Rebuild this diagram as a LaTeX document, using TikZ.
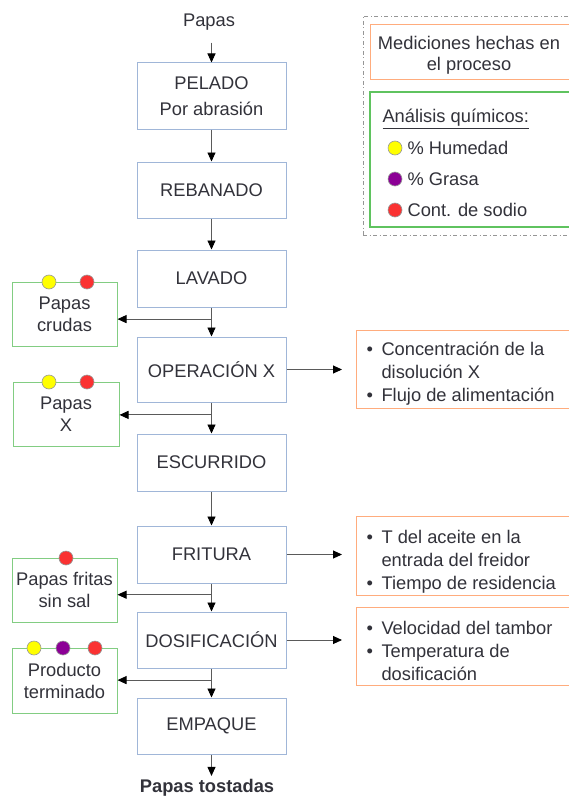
\documentclass[tikz,border=0pt]{standalone}
\usepackage{fontspec}
\setmainfont{Liberation Sans}
\usetikzlibrary{arrows.meta, positioning, calc}

\definecolor{procblue}{RGB}{160,182,216}
\definecolor{samplegreen}{RGB}{130,205,130}
\definecolor{legendgreen}{RGB}{95,195,95}
\definecolor{measorange}{RGB}{255,172,125}
\definecolor{framegray}{RGB}{150,150,150}
\definecolor{arrowgray}{RGB}{90,90,90}
\definecolor{textgray}{RGB}{50,50,58}
\definecolor{dotyellow}{RGB}{255,255,0}
\definecolor{dotpurple}{RGB}{140,0,150}
\definecolor{dotred}{RGB}{250,50,50}

\begin{document}
\begin{tikzpicture}[
    x=1pt, y=-1pt,
    every node/.style={text=textgray, font=\fontsize{18.3}{22}\selectfont},
    procbox/.style={rectangle, draw=procblue, line width=1pt, minimum width=149pt, minimum height=57pt, align=center},
    samplebox/.style={rectangle, draw=samplegreen, line width=1pt, minimum width=105pt, minimum height=64pt, align=center, inner sep=2pt},
    measbox/.style={rectangle, draw=measorange, line width=1pt, anchor=west, minimum width=215pt, minimum height=78pt},
    meastext/.style={anchor=west, align=left, font=\fontsize{18.3}{23}\selectfont},
    probe/.style={circle, draw=gray!80, line width=0.6pt, minimum size=14pt, inner sep=0pt},
    arrow/.style={draw=arrowgray, line width=0.9pt, -{Triangle[length=9pt, width=8pt, color=black]}},
]

%Background
\clip (0,0) rectangle (569,797);
\fill[white] (0,0) rectangle (569,797);

% Legend
\node[rectangle, draw=framegray, line width=0.8pt, dash pattern=on 4pt off 2.5pt on 1pt off 2.5pt, minimum width=208pt, minimum height=219pt] (legend) at (467,125.5) {};
\node[rectangle, draw=measorange, line width=1pt, minimum width=201pt, minimum height=55pt] (leg_meas) at (470.5,52.5) {};
\node[align=center, font=\fontsize{18.3}{21}\selectfont] (leg_meas_txt) at (469,55) {Mediciones hechas en\\el proceso};
\node[rectangle, draw=legendgreen, line width=1.3pt, minimum width=201pt, minimum height=135pt] (leg_chem) at (470.5,159.5) {};
\node[anchor=west] (leg_title) at (379,119) {\underline{Análisis químicos:}};
\node[probe, fill=dotyellow] (leg_hum) at (395,148) {};
\node[probe, fill=dotpurple] (leg_fat) at (395,179) {};
\node[probe, fill=dotred] (leg_salt) at (395,210) {};
\node[anchor=west] (leg_hum_txt) at (404,148) {\% Humedad};
\node[anchor=west] (leg_fat_txt) at (404,179) {\% Grasa};
\node[anchor=west] (leg_salt_txt) at (404,210) {Cont. de sodio};

% Main process
\node (papas) at (209,22) {Papas};
\node[procbox, minimum height=66pt] (pelado) at (211.5,96) {PELADO\\[4pt]Por abrasión};
\node[procbox, minimum height=56pt] (rebanado) at (211.5,190) {REBANADO};
\node[procbox] (lavado) at (211.5,278.5) {LAVADO};
\node[procbox, minimum height=65pt] (operacion) at (211.5,369.5) {OPERACIÓN X};
\node[procbox] (escurrido) at (211.5,462.5) {ESCURRIDO};
\node[procbox] (fritura) at (211.5,554.5) {FRITURA};
\node[procbox, minimum height=56pt] (dosificacion) at (211.5,640) {DOSIFICACIÓN};
\node[procbox, minimum height=56pt] (empaque) at (211.5,726) {EMPAQUE};
\node[font=\fontsize{18.3}{22}\selectfont\bfseries] (tostadas) at (207,788) {Papas tostadas};

% Samples
\node[samplebox] (crudas) at (64.5,314) {Papas\\crudas};
\node[samplebox, minimum width=106pt] (papas_x) at (66,414) {Papas\\X};
\node[samplebox] (fritas) at (64.5,590) {Papas fritas\\sin sal};
\node[samplebox, minimum height=65pt] (producto) at (64.5,680.5) {Producto\\terminado};

\node[probe, fill=dotyellow] (crudas_hum) at (49,282) {};
\node[probe, fill=dotred] (crudas_salt) at (87,282) {};
\node[probe, fill=dotyellow] (papas_x_hum) at (49,382) {};
\node[probe, fill=dotred] (papas_x_salt) at (87,382) {};
\node[probe, fill=dotred] (fritas_salt) at (66,558) {};
\node[probe, fill=dotyellow] (producto_hum) at (34,648) {};
\node[probe, fill=dotpurple] (producto_fat) at (63,648) {};
\node[probe, fill=dotred] (producto_salt) at (95,648) {};

% Measurements
\node[measbox] (med_opx) at (356,369) {};
\node[measbox, minimum height=79pt] (med_fritura) at (356,555.5) {};
\node[measbox] (med_dosif) at (356,646) {};
\node[meastext] (med_opx_txt) at ([xshift=7pt, yshift=-5pt]med_opx.west) {\makebox[15pt][l]{•}Concentración de la\\\hspace*{15pt}disolución X\\\makebox[15pt][l]{•}Flujo de alimentación};
\node[meastext] (med_fritura_txt) at ([xshift=7pt, yshift=-6pt]med_fritura.west) {\makebox[15pt][l]{•}T del aceite en la\\\hspace*{15pt}entrada del freidor\\\makebox[15pt][l]{•}Tiempo de residencia};
\node[meastext] (med_dosif_txt) at ([xshift=7pt, yshift=-5pt]med_dosif.west) {\makebox[15pt][l]{•}Velocidad del tambor\\\makebox[15pt][l]{•}Temperatura de\\\hspace*{15pt}dosificación};

% Arrows
\draw[arrow, shorten <=9pt] (papas.south -| pelado.north) -- (pelado.north);
\draw[arrow] (pelado) -- (rebanado);
\draw[arrow] (rebanado) -- (lavado);
\draw[arrow] (lavado) -- (operacion);
\draw[arrow] (operacion) -- (escurrido);
\draw[arrow] (escurrido) -- (fritura);
\draw[arrow] (fritura) -- (dosificacion);
\draw[arrow] (dosificacion) -- (empaque);
\draw[arrow] (empaque) -- (tostadas.north -| empaque.south);

% Sample branches
\coordinate (b_crudas) at ($(lavado.south)!0.4!(operacion.north)$);
\coordinate (b_papas_x) at ($(operacion.south)!0.4!(escurrido.north)$);
\coordinate (b_fritas) at ($(fritura.south)!0.4!(dosificacion.north)$);
\coordinate (b_producto) at ($(dosificacion.south)!0.4!(empaque.north)$);
\draw[arrow] (b_crudas) -- (b_crudas -| crudas.east);
\draw[arrow] (b_papas_x) -- (b_papas_x -| papas_x.east);
\draw[arrow] (b_fritas) -- (b_fritas -| fritas.east);
\draw[arrow] (b_producto) -- (b_producto -| producto.east);

% Measurement arrows
\draw[arrow, shorten >=14pt] (operacion.east) -- (operacion.east -| med_opx.west);
\draw[arrow, shorten >=14pt] (fritura.east) -- (fritura.east -| med_fritura.west);
\draw[arrow, shorten >=14pt] (dosificacion.east) -- (dosificacion.east -| med_dosif.west);

\end{tikzpicture}
\end{document}
